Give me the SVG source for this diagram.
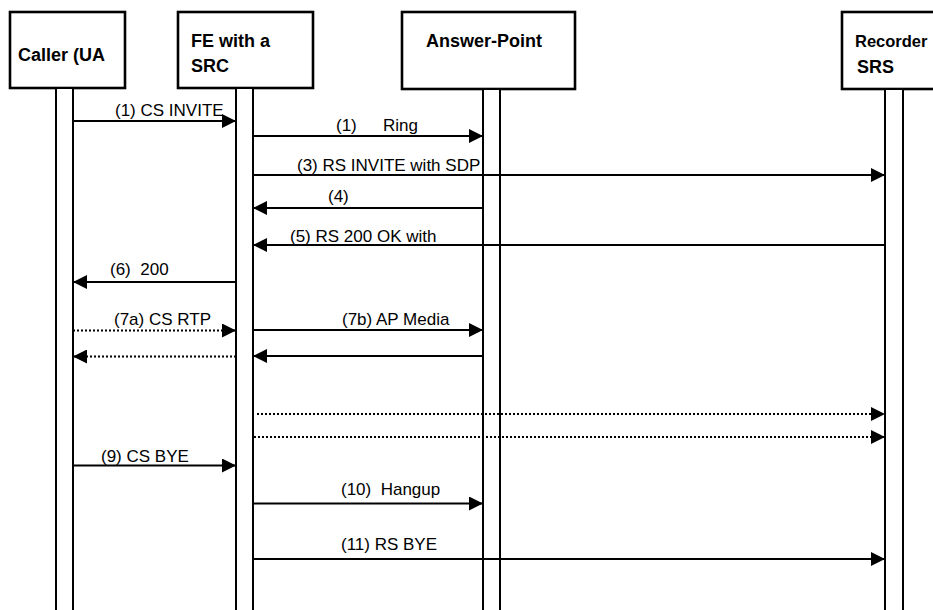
<svg xmlns="http://www.w3.org/2000/svg" width="933" height="610" viewBox="0 0 933 610">
<style>
.box{fill:#fff;stroke:#000;stroke-width:2.6}
.life{fill:#fff;stroke:#000;stroke-width:2}
.hd{font-family:"Liberation Sans",Arial,sans-serif;font-weight:bold;font-size:18px;fill:#000}
.lbl{font-family:"Liberation Sans",Arial,sans-serif;font-size:17px;fill:#000}
.msg{stroke:#000;stroke-width:2;fill:none;marker-end:url(#ah)}
.dot{stroke-dasharray:2,2}
</style>
<defs>
<marker id="ah" markerUnits="userSpaceOnUse" markerWidth="14" markerHeight="14" refX="14" refY="7" orient="auto">
<path d="M0,0 L14,7 L0,14 z" fill="#000"/>
</marker>
</defs>
<rect width="933" height="610" fill="#fff"/>
<g id="caller">
<rect class="box" x="10" y="12" width="115" height="76"/>
<text class="hd" x="18" y="61">Caller (UA</text>
<rect class="life" x="56" y="88" width="17" height="530"/>
</g>
<g id="fe">
<rect class="box" x="178" y="12" width="135" height="76"/>
<text class="hd" x="191" y="47">FE with a</text>
<text class="hd" x="191" y="72">SRC</text>
<rect class="life" x="236" y="88" width="17" height="530"/>
</g>
<g id="answer-point">
<rect class="box" x="402" y="12" width="173" height="77"/>
<text class="hd" x="426" y="47">Answer-Point</text>
<rect class="life" x="483" y="89" width="17" height="530"/>
</g>
<g id="recorder">
<rect class="box" x="842" y="12" width="110" height="77"/>
<text class="hd" x="855" y="47" style="font-size:16.5px">Recorder</text>
<text class="hd" x="857" y="73">SRS</text>
<rect class="life" x="885" y="89" width="18" height="530"/>
</g>
<g id="connectors">
<line class="msg" x1="73" y1="121" x2="236" y2="121"/>
<text class="lbl" x="115" y="116">(1) CS INVITE</text>
<line class="msg" x1="253" y1="136" x2="483" y2="136"/>
<text class="lbl" y="131"><tspan x="336">(1)</tspan><tspan x="383">Ring</tspan></text>
<line class="msg" x1="253" y1="175" x2="885" y2="175"/>
<text class="lbl" x="297" y="171">(3) RS INVITE with SDP</text>
<line class="msg" x1="483" y1="208" x2="253" y2="208"/>
<text class="lbl" x="328" y="202">(4)</text>
<line class="msg" x1="885" y1="245" x2="253" y2="245"/>
<text class="lbl" x="290" y="242">(5) RS 200 OK with</text>
<line class="msg" x1="236" y1="282" x2="73" y2="282"/>
<text class="lbl" x="110" y="275" xml:space="preserve">(6)  200</text>
<line class="msg dot" x1="73" y1="330.5" x2="236" y2="330.5"/>
<text class="lbl" x="114" y="325">(7a) CS RTP</text>
<line class="msg" x1="253" y1="330" x2="483" y2="330"/>
<text class="lbl" x="342" y="325">(7b) AP Media</text>
<line class="msg dot" x1="236" y1="356.5" x2="73" y2="356.5"/>
<line class="msg" x1="483" y1="356" x2="253" y2="356"/>
<line class="msg dot" x1="257" y1="414" x2="885" y2="414"/>
<line class="msg dot" x1="254" y1="437" x2="885" y2="437"/>
<line class="msg" x1="73" y1="465.5" x2="236" y2="465.5"/>
<text class="lbl" x="101" y="462">(9) CS BYE</text>
<line class="msg" x1="253" y1="503.5" x2="483" y2="503.5"/>
<text class="lbl" x="341" y="495" xml:space="preserve">(10)  Hangup</text>
<line class="msg" x1="253" y1="559" x2="885" y2="559"/>
<text class="lbl" x="341" y="550">(11) RS BYE</text>
</g>
</svg>
